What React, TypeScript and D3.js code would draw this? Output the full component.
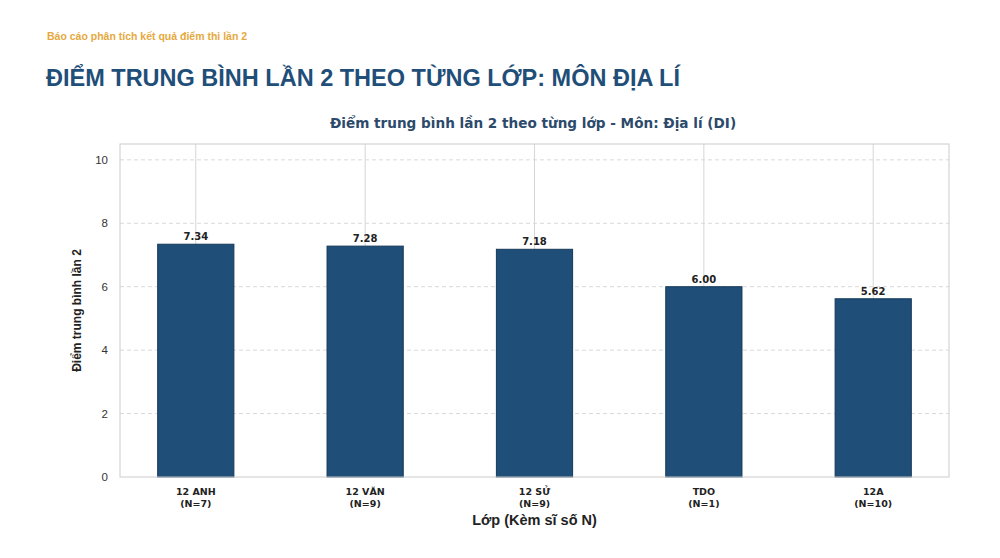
import React from "react";
import * as d3 from "d3";

const classes = ["12 ANH", "12 VĂN", "12 SỬ", "TDO", "12A"];
const counts = [7, 9, 9, 1, 10];
const scores = [7.34, 7.28, 7.18, 6.0, 5.62];
const yTicks = [0, 2, 4, 6, 8, 10];

const W = 1000;
const H = 558;
const frame = { left: 120, right: 949, top: 144, bottom: 477 };
const barWidth = 0.45;
const dejavu = "'DejaVu Sans', Verdana, sans-serif";

export default function App() {
  const x = d3
    .scaleLinear()
    .domain([-0.4475, classes.length - 1 + 0.4475])
    .range([frame.left, frame.right]);
  const y = d3.scaleLinear().domain([0, 10.5]).range([frame.bottom, frame.top]);
  const bw = x(barWidth) - x(0);

  return (
    <svg
      width={W}
      height={H}
      style={{ position: "absolute", left: 0, top: 0, background: "#fff" }}
      fontFamily="'Liberation Sans', Arial, sans-serif"
    >
      <text x={47} y={40} fontSize={10.5} fontWeight="bold" fill="#E6A93E">
        Báo cáo phân tích kết quả điểm thi lần 2
      </text>
      <text x={46} y={86} fontSize={23.5} fontWeight="bold" fill="#1F4E79">
        ĐIỂM TRUNG BÌNH LẦN 2 THEO TỪNG LỚP: MÔN ĐỊA LÍ
      </text>
      <text
        x={533}
        y={128}
        fontSize={13.6}
        fontWeight="bold"
        fill="#2C4A6B"
        textAnchor="middle"
        fontFamily={dejavu}
      >
        Điểm trung bình lần 2 theo từng lớp - Môn: Địa lí (DI)
      </text>

      {/* grid */}
      {yTicks.slice(1).map((t) => (
        <line
          key={t}
          x1={frame.left}
          x2={frame.right}
          y1={y(t)}
          y2={y(t)}
          stroke="#d9d9d9"
          strokeDasharray="4 3"
          strokeWidth={1}
        />
      ))}
      {classes.map((c, i) => (
        <line
          key={c}
          x1={x(i)}
          x2={x(i)}
          y1={frame.top}
          y2={frame.bottom}
          stroke="#d6d6d6"
          strokeWidth={1}
        />
      ))}

      {/* bars */}
      {scores.map((v, i) => (
        <g key={i}>
          <rect
            x={x(i) - bw / 2}
            y={y(v)}
            width={bw}
            height={y(0) - y(v)}
            fill="#1F4E79"
            stroke="#16395A"
            strokeWidth={1}
          />
          <text
            x={x(i)}
            y={y(v) - 4}
            fontSize={10}
            fontWeight="bold"
            fill="#222"
            textAnchor="middle"
            fontFamily={dejavu}
          >
            {v.toFixed(2)}
          </text>
        </g>
      ))}

      {/* frame */}
      <rect
        x={frame.left}
        y={frame.top}
        width={frame.right - frame.left}
        height={frame.bottom - frame.top}
        fill="none"
        stroke="#cccccc"
        strokeWidth={1}
      />

      {/* y ticks */}
      {yTicks.map((t) => (
        <text
          key={t}
          x={frame.left - 12}
          y={y(t) + 4}
          fontSize={11.5}
          fill="#333"
          textAnchor="end"
        >
          {t}
        </text>
      ))}

      {/* x ticks */}
      {classes.map((c, i) => (
        <text
          key={c}
          x={x(i)}
          fontSize={9.5}
          fontWeight="bold"
          fill="#222"
          textAnchor="middle"
          fontFamily={dejavu}
        >
          <tspan x={x(i)} y={495}>
            {c}
          </tspan>
          <tspan x={x(i)} y={507}>
            (N={counts[i]})
          </tspan>
        </text>
      ))}

      <text
        x={(frame.left + frame.right) / 2}
        y={525}
        fontSize={14.5}
        fontWeight="bold"
        fill="#222"
        textAnchor="middle"
      >
        Lớp (Kèm sĩ số N)
      </text>
      <text
        transform={`translate(81, ${(frame.top + frame.bottom) / 2}) rotate(-90)`}
        fontSize={12}
        fontWeight="bold"
        fill="#222"
        textAnchor="middle"
      >
        Điểm trung bình lần 2
      </text>
    </svg>
  );
}
